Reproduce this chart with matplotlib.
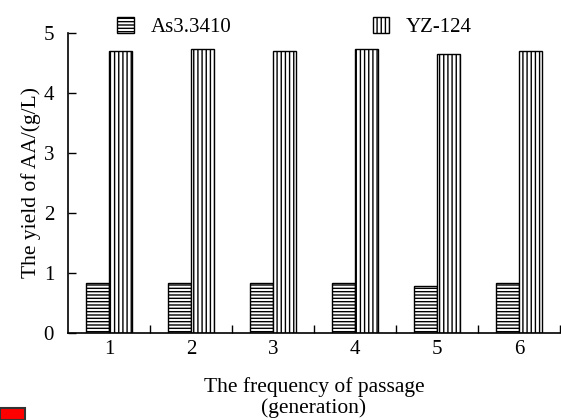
import matplotlib
matplotlib.use('Agg')
import matplotlib.pyplot as plt
from matplotlib.patches import Rectangle
import numpy as np

# passage generations and AA yields (g/L)
generations = [1, 2, 3, 4, 5, 6]
as3410 = [0.83, 0.83, 0.83, 0.83, 0.79, 0.83]
yz124 = [4.70, 4.74, 4.70, 4.74, 4.65, 4.70]

plt.rcParams['font.family'] = ['Liberation Serif', 'DejaVu Serif']
plt.rcParams['hatch.linewidth'] = 1.0
plt.rcParams['font.size'] = 15

fig = plt.figure(figsize=(5.61, 4.2), dpi=100)
ax = fig.add_axes([68 / 561, 87 / 420, 492 / 561, 300 / 420])

x = np.array(generations)
w = 0.285
ax.bar(x - w / 2, as3410, w, color='white', edgecolor='black', hatch='-----',
       linewidth=1.0, label='As3.3410')
ax.bar(x + w / 2, yz124, w, color='white', edgecolor='black', hatch='||||',
       linewidth=1.0, label='YZ-124')

ax.set_xlim(0.5, 6.5)
ax.set_ylim(0, 5)
ax.set_xticks(generations)
ax.set_xticks(np.arange(1.5, 7, 1), minor=True)
ax.tick_params(axis='x', which='major', length=0, pad=5, labelsize=15)
ax.tick_params(axis='x', which='minor', direction='in', length=6, width=1)
ax.set_yticks([0, 1, 2, 3, 4, 5])
ax.tick_params(axis='y', direction='in', length=6, width=1, pad=10, labelsize=15)

ax.spines['top'].set_visible(False)
ax.spines['right'].set_visible(False)
ax.spines['left'].set_linewidth(1.2)
ax.spines['bottom'].set_linewidth(1.2)

ax.set_xlabel('The frequency of passage\n(generation)', fontsize=15.5,
              labelpad=13, linespacing=1.1)
ax.set_ylabel('The yield of AA/(g/L)', fontsize=15.5, labelpad=2)

fig.legend(loc='upper center', bbox_to_anchor=(0.525, 1.005), ncol=2, frameon=False,
           fontsize=15, handlelength=0.8, handleheight=0.8, handletextpad=0.8,
           columnspacing=6.8)

# small red marker box in the corner
fig.patches.append(Rectangle((0, 0), 25 / 561, 12 / 420, transform=fig.transFigure,
                             facecolor='red', edgecolor='#333333', linewidth=1.5))

fig.savefig('out.png', dpi=100)
